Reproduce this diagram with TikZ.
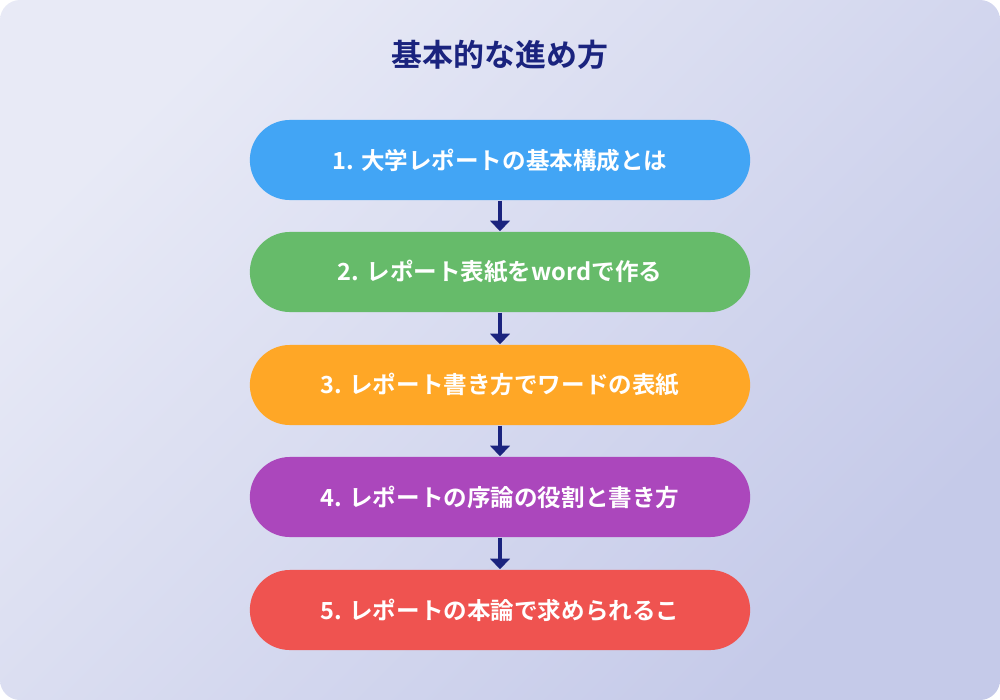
\documentclass[tikz,border=0pt]{standalone}
\usepackage{fontspec}
\newfontfamily\cjk{Noto Sans CJK JP}[BoldFont={Noto Sans CJK JP Bold}]
\usetikzlibrary{positioning,arrows.meta}
\definecolor{navy}{HTML}{1A237E}
\definecolor{bgA}{HTML}{E8EAF6}
\definecolor{bgB}{HTML}{C5CAE9}
\definecolor{stepA}{HTML}{42A5F5}
\definecolor{stepB}{HTML}{66BB6A}
\definecolor{stepC}{HTML}{FFA726}
\definecolor{stepD}{HTML}{AB47BC}
\definecolor{stepE}{HTML}{EF5350}
\begin{document}
\begin{tikzpicture}[x=0.01cm, y=-0.01cm,
          stepbox/.style ={minimum width=5cm, minimum height=0.8cm,
                           rounded corners=0.4cm, text=white, font=\cjk\bfseries\fontsize{6.7pt}{7.5pt}\selectfont},
          link/.style ={navy, line width=1.1pt, -{Triangle[width=5.5pt,length=3pt]}}
          ]
\useasboundingbox (0,0) rectangle (1000,700);
\shade[left color=bgA, right color=bgB, shading angle=45, rounded corners=0.2cm]
  (0,0) rectangle (1000,700);

\node[navy, font=\cjk\bfseries\fontsize{8.8pt}{9.5pt}\selectfont] (title) at (500,55) {基本的な進め方};

\node[stepbox, fill=stepA] (s1) at (500,160) {1. 大学レポートの基本構成とは};
\node[stepbox, fill=stepB] (s2) at (500,272) {2. レポート表紙をwordで作る};
\node[stepbox, fill=stepC] (s3) at (500,385) {3. レポート書き方でワードの表紙};
\node[stepbox, fill=stepD] (s4) at (500,497) {4. レポートの序論の役割と書き方};
\node[stepbox, fill=stepE] (s5) at (500,610) {5. レポートの本論で求められるこ};

\foreach \a/\b in {s1/s2, s2/s3, s3/s4, s4/s5}{
\draw[link] (\a.south) -- (\b.north);
}
\end{tikzpicture}
\end{document}
